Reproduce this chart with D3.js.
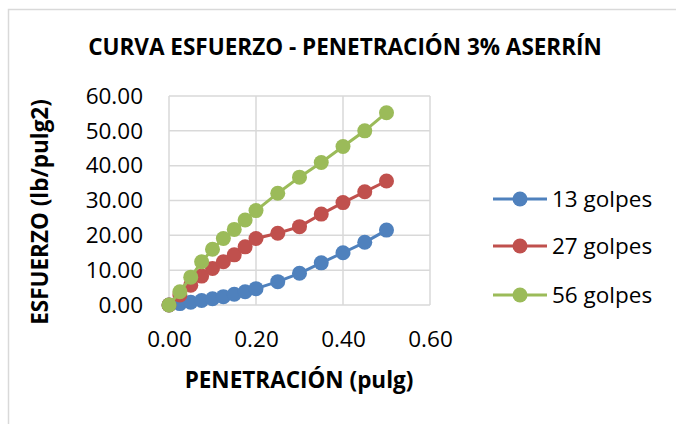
<!DOCTYPE html>
<html>
<head>
<meta charset="utf-8">
<script src="https://cdn.jsdelivr.net/npm/d3@7"></script>
<style>
  body { margin: 0; background: #fff; }
  svg text { font-family: "Open Sans", Carlito, Calibri, sans-serif; fill: #000; }
</style>
</head>
<body>
<div id="chart"></div>
<script>
// penetration (pulg)
var penetracion = [0, 0.025, 0.05, 0.075, 0.1, 0.125, 0.15, 0.175, 0.2, 0.25, 0.3, 0.35, 0.4, 0.45, 0.5];
// esfuerzo (lb/pulg2) for each compaction
var golpes13 = [0, 0.4, 0.8, 1.3, 1.8, 2.4, 3.1, 3.8, 4.7, 6.7, 9.1, 12.1, 15.0, 18.0, 21.5];
var golpes27 = [0, 2.9, 5.7, 8.3, 10.5, 12.4, 14.4, 16.7, 19.1, 20.6, 22.5, 26.1, 29.4, 32.5, 35.6];
var golpes56 = [0, 3.8, 8.0, 12.4, 16.0, 19.1, 21.7, 24.4, 27.1, 32.1, 36.7, 40.9, 45.5, 50.0, 55.2];
var seriesNames = ["13 golpes", "27 golpes", "56 golpes"];
var xTicks = [0, 0.2, 0.4, 0.6];
var yTicks = [0, 10, 20, 30, 40, 50, 60];

var colors = ["#4F81BD", "#C0504D", "#9BBB59"];
var allSeries = [golpes13, golpes27, golpes56];

const w = 676, h = 424;
const padL = 169, padR = 430, padT = 96, padB = 305;
const fs = 22.5;

var svg = d3.select("#chart").append("svg")
  .attr("width", w)
  .attr("height", h);

// chart border
svg.append("rect")
  .attr("x", 8.5).attr("y", 9.5)
  .attr("width", 720).attr("height", 440)
  .attr("fill", "#fff")
  .attr("stroke", "#D9D9D9")
  .attr("stroke-width", 1.5);

var xScale = d3.scaleLinear().domain([0, 0.6]).range([padL, padR]);
var yScale = d3.scaleLinear().domain([0, 60]).range([padB, padT]);

// gridlines
svg.append("g").selectAll("line").data(yTicks).enter().append("line")
  .attr("x1", padL).attr("x2", padR)
  .attr("y1", d => yScale(d)).attr("y2", d => yScale(d))
  .attr("stroke", "#D9D9D9").attr("stroke-width", 1.5);

svg.append("g").selectAll("line").data(xTicks).enter().append("line")
  .attr("x1", d => xScale(d)).attr("x2", d => xScale(d))
  .attr("y1", padT).attr("y2", padB)
  .attr("stroke", "#D9D9D9").attr("stroke-width", 1.5);

// axes (labels only)
var yAxis = d3.axisLeft(yScale).tickValues(yTicks).tickFormat(d3.format(".2f")).tickSize(0).tickPadding(26);
svg.append("g")
  .attr("transform", "translate(" + padL + ",0)")
  .call(yAxis)
  .call(g => g.select(".domain").remove())
  .attr("font-family", null)
  .selectAll("text").style("font-size", fs + "px");

var xAxis = d3.axisBottom(xScale).tickValues(xTicks).tickFormat(d3.format(".2f")).tickSize(0).tickPadding(26);
svg.append("g")
  .attr("transform", "translate(0," + padB + ")")
  .call(xAxis)
  .call(g => g.select(".domain").remove())
  .attr("font-family", null)
  .selectAll("text").style("font-size", fs + "px");

// series
var line = d3.line()
  .x((d, i) => xScale(penetracion[i]))
  .y(d => yScale(d));

allSeries.forEach(function (s, k) {
  var g = svg.append("g");
  g.append("path")
    .attr("d", line(s))
    .attr("fill", "none")
    .attr("stroke", colors[k])
    .attr("stroke-width", 3);
  g.selectAll("circle").data(s).enter().append("circle")
    .attr("cx", (d, i) => xScale(penetracion[i]))
    .attr("cy", d => yScale(d))
    .attr("r", 7.5)
    .attr("fill", colors[k]);
});

// title
svg.append("text")
  .attr("x", 345).attr("y", 55)
  .attr("text-anchor", "middle")
  .style("font-size", fs + "px").style("font-weight", "bold")
  .text("CURVA ESFUERZO - PENETRACIÓN 3% ASERRÍN");

// axis titles
svg.append("text")
  .attr("x", 299).attr("y", 388)
  .attr("text-anchor", "middle")
  .style("font-size", fs + "px").style("font-weight", "bold")
  .text("PENETRACIÓN (pulg)");

svg.append("text")
  .attr("transform", "translate(48,212) rotate(-90)")
  .attr("text-anchor", "middle")
  .style("font-size", fs + "px").style("font-weight", "bold")
  .text("ESFUERZO (lb/pulg2)");

// legend
var legend = svg.append("g").attr("id", "legend");
var legY = [199, 246, 295];
seriesNames.forEach(function (name, k) {
  legend.append("line")
    .attr("x1", 493).attr("x2", 547)
    .attr("y1", legY[k]).attr("y2", legY[k])
    .attr("stroke", colors[k]).attr("stroke-width", 3);
  legend.append("circle")
    .attr("cx", 520).attr("cy", legY[k]).attr("r", 7.5)
    .attr("fill", colors[k]);
  legend.append("text")
    .attr("x", 552).attr("y", legY[k] + 8)
    .style("font-size", fs + "px")
    .text(name);
});
</script>
</body>
</html>
